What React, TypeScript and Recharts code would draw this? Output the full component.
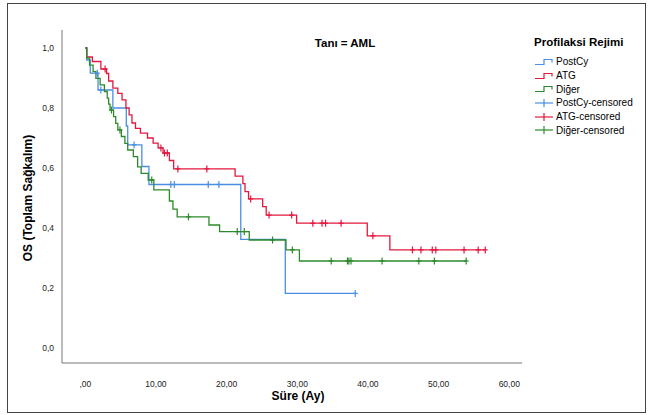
import { ComposedChart, Line, Scatter, XAxis, YAxis } from 'recharts';

// Kaplan-Meier steps: time (months) and survival after each drop
const postCyTimes = [0, 0.2, 0.7, 1.8, 3.9, 5.8, 6.0, 8.0, 9.0, 22.0, 28.3, 38.2];
const postCySurv = [1, 0.96, 0.916, 0.86, 0.8, 0.74, 0.677, 0.605, 0.545, 0.362, 0.182, 0.182];
const postCyCensor = [1.7, 2.2, 6.9, 12.1, 12.6, 17.4, 18.9, 38.2];

const atgTimes = [0, 0.2, 1.0, 2.2, 3.0, 3.3, 3.9, 4.6, 5.2, 5.75, 6.2, 6.6, 7.1, 7.8, 8.8, 9.6, 10.3, 11.0, 11.9, 12.5, 21.2, 22.3, 22.6, 23.1, 25.1, 25.6, 29.9, 39.9, 43.1, 56.6];
const atgSurv = [1, 0.97, 0.955, 0.93, 0.915, 0.89, 0.866, 0.849, 0.827, 0.8, 0.777, 0.75, 0.732, 0.716, 0.7, 0.683, 0.667, 0.65, 0.625, 0.597, 0.573, 0.548, 0.521, 0.497, 0.471, 0.443, 0.416, 0.374, 0.327, 0.327];
const atgCensor = [2.8, 10.7, 11.2, 11.6, 13.1, 17.2, 23.4, 26.0, 29.2, 32.2, 33.5, 34.0, 36.2, 40.7, 46.3, 47.5, 49.1, 49.6, 53.6, 55.6, 56.6];

const digerTimes = [0, 0.2, 0.6, 1.1, 1.5, 2.1, 2.7, 3.1, 3.3, 3.5, 4.0, 4.3, 4.6, 5.1, 5.6, 6.0, 6.8, 7.4, 7.9, 8.9, 9.7, 11.9, 12.4, 13.0, 17.5, 19.0, 23.2, 28.4, 30.3, 53.9];
const digerSurv = [1, 0.966, 0.943, 0.921, 0.899, 0.877, 0.855, 0.833, 0.813, 0.793, 0.771, 0.749, 0.727, 0.705, 0.682, 0.66, 0.638, 0.604, 0.582, 0.56, 0.527, 0.49, 0.463, 0.437, 0.41, 0.388, 0.36, 0.327, 0.29, 0.29];
const digerCensor = [3.7, 4.9, 9.4, 14.6, 21.5, 22.5, 26.5, 29.3, 34.8, 37.1, 37.3, 37.6, 42.0, 47.2, 49.4, 53.9];

const xTicks = [0, 10, 20, 30, 40, 50, 60];
const yTicks = [0, 0.2, 0.4, 0.6, 0.8, 1.0];

const BLUE = '#4a8fe3';
const RED = '#e3183f';
const GREEN = '#2c8a2c';
const FONT = '"Liberation Sans", Arial, sans-serif';

const toSteps = (times: number[], surv: number[]) => times.map((t, i) => ({ t, s: surv[i] }));

// censor marks sit on the curve: take survival in force at that time
const toCensor = (censor: number[], times: number[], surv: number[]) =>
  censor.map(c => {
    let s = surv[0];
    times.forEach((t, i) => {
      if (t <= c) s = surv[i];
    });
    return { t: c, s };
  });

const series = [
  { name: 'PostCy', color: BLUE, steps: toSteps(postCyTimes, postCySurv), cens: toCensor(postCyCensor, postCyTimes, postCySurv) },
  { name: 'ATG', color: RED, steps: toSteps(atgTimes, atgSurv), cens: toCensor(atgCensor, atgTimes, atgSurv) },
  { name: 'Diğer', color: GREEN, steps: toSteps(digerTimes, digerSurv), cens: toCensor(digerCensor, digerTimes, digerSurv) },
];

const plus = (color: string) => (props: any) => {
  const { cx, cy } = props;
  return (
    <g>
      <line x1={cx} x2={cx} y1={cy - 3.5} y2={cy + 3.5} stroke={color} strokeWidth={1.2} />
      <line x1={cx - 2.5} x2={cx + 2.5} y1={cy} y2={cy} stroke={color} strokeWidth={1.2} />
    </g>
  );
};

function LegendBox() {
  const rows = [
    ...series.map(s => ({ label: s.name, color: s.color, step: true })),
    ...series.map(s => ({ label: s.name + '-censored', color: s.color, step: false })),
  ];
  return (
    <div style={{ position: 'absolute', left: 534, top: 35, fontFamily: FONT }}>
      <div style={{ fontWeight: 'bold', fontSize: 11.5, marginBottom: 6, lineHeight: '14px' }}>Profilaksi Rejimi</div>
      {rows.map(r => (
        <div key={r.label} style={{ display: 'flex', alignItems: 'center', height: 13.7, fontSize: 10 }}>
          <svg width={20} height={8} style={{ marginRight: 2 }}>
            {r.step ? (
              <path d="M1,6.5 H10 V1.5 H18 V4.5" fill="none" stroke={r.color} strokeWidth={1.2} />
            ) : (
              <g>
                <line x1={1} x2={19} y1={4} y2={4} stroke={r.color} strokeWidth={1.2} />
                <line x1={10} x2={10} y1={0} y2={8} stroke={r.color} strokeWidth={1.2} />
              </g>
            )}
          </svg>
          <span>{r.label}</span>
        </div>
      ))}
    </div>
  );
}

export default function App() {
  return (
    <div style={{ position: 'absolute', left: 0, top: 0, width: 652, height: 415, background: '#fff', fontFamily: FONT }}>
      <div style={{ position: 'absolute', left: 7, top: 3, width: 637, height: 408, border: '1px solid #444' }} />
      <ComposedChart width={652} height={415} margin={{ top: 30, right: 130, bottom: 22, left: 22 }}>
        <XAxis
          type="number"
          dataKey="t"
          domain={[-3.3, 61.8]}
          ticks={xTicks}
          allowDataOverflow
          tickLine={false}
          tickMargin={12}
          height={30}
          axisLine={{ stroke: '#777' }}
          tick={{ fontSize: 8.5, fill: '#222', fontFamily: FONT }}
          tickFormatter={(v: number) => (v === 0 ? ',00' : v.toFixed(2).replace('.', ','))}
        />
        <YAxis
          type="number"
          dataKey="s"
          domain={[-0.05, 1.06]}
          ticks={yTicks}
          allowDataOverflow
          tickLine={false}
          width={40}
          axisLine={{ stroke: '#777' }}
          tick={{ fontSize: 8.5, fill: '#222', fontFamily: FONT }}
          tickFormatter={(v: number) => v.toFixed(1).replace('.', ',')}
        />
        {series.map(s => (
          <Line
            key={s.name}
            data={s.steps}
            dataKey="s"
            type="stepAfter"
            stroke={s.color}
            strokeWidth={1.3}
            dot={false}
            activeDot={false}
            isAnimationActive={false}
          />
        ))}
        {series.map(s => (
          <Scatter key={s.name + 'c'} data={s.cens} dataKey="s" shape={plus(s.color)} isAnimationActive={false} />
        ))}
      </ComposedChart>
      <div style={{ position: 'absolute', left: 300, top: 37, width: 90, textAlign: 'center', fontWeight: 'bold', fontSize: 11.5 }}>Tanı = AML</div>
      <div style={{ position: 'absolute', left: 248, top: 389, width: 100, textAlign: 'center', fontWeight: 'bold', fontSize: 12 }}>Süre (Ay)</div>
      <div
        style={{
          position: 'absolute',
          left: 28,
          top: 198,
          transform: 'translate(-50%, -50%) rotate(-90deg)',
          whiteSpace: 'nowrap',
          fontWeight: 'bold',
          fontSize: 12,
        }}
      >
        OS (Toplam Sağkalım)
      </div>
      <LegendBox />
    </div>
  );
}
